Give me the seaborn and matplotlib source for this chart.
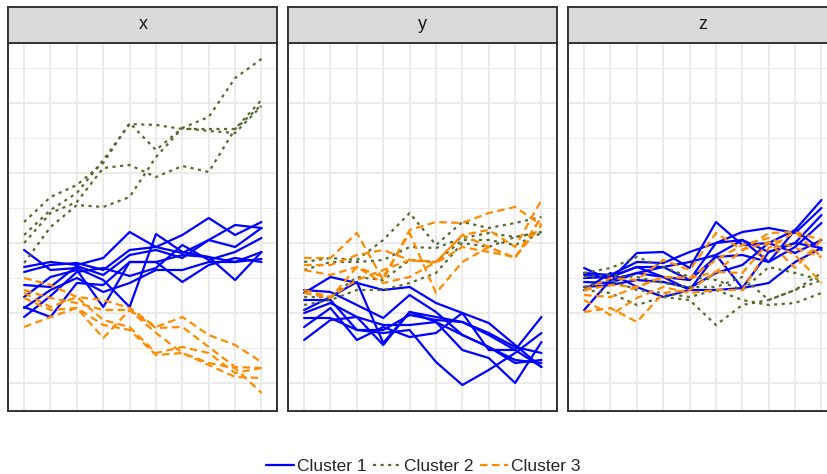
import matplotlib
matplotlib.use("Agg")
import matplotlib.pyplot as plt
import pandas as pd
import seaborn as sns

# ---------------- data (arbitrary units) ----------------
time_points = list(range(1, 11))
panels = ["x", "y", "z"]
clusters = ["Cluster 1", "Cluster 2", "Cluster 3"]

x_cluster1 = [
    [133, 113, 115, 103, 76, 149, 131, 126, 121, 131],
    [116, 121, 118, 125, 151, 136, 130, 143, 136, 155],
    [111, 118, 120, 113, 133, 136, 148, 165, 148, 161],
    [98, 96, 117, 108, 128, 133, 125, 143, 158, 155],
    [86, 106, 113, 76, 121, 121, 128, 126, 103, 131],
    [76, 66, 100, 98, 121, 121, 101, 118, 125, 121],
    [75, 93, 105, 91, 100, 113, 113, 121, 121, 124],
    [66, 87, 111, 115, 107, 115, 138, 123, 131, 145],
]
x_cluster2 = [
    [161, 186, 198, 220, 260, 233, 255, 266, 305, 324],
    [148, 173, 190, 223, 259, 258, 254, 254, 254, 283],
    [140, 170, 181, 215, 218, 206, 217, 211, 254, 278],
    [120, 156, 178, 176, 186, 226, 255, 252, 250, 277],
]
x_cluster3 = [
    [105, 98, 86, 83, 75, 56, 66, 48, 38, 21],
    [93, 85, 80, 73, 73, 55, 56, 36, 16, 15],
    [90, 76, 86, 63, 56, 30, 36, 30, 10, 15],
    [85, 73, 75, 58, 53, 28, 30, 20, 15, -10],
    [56, 66, 75, 45, 73, 50, 30, 18, 6, 5],
]

y_cluster1 = [
    [90, 106, 100, 93, 96, 80, 70, 60, 38, 16],
    [93, 91, 78, 65, 88, 71, 48, 36, 23, 20],
    [73, 86, 101, 40, 71, 66, 61, 50, 36, 30],
    [70, 80, 66, 58, 58, 61, 33, 25, 0, 41],
    [65, 65, 53, 50, 53, 21, -2, 13, 30, 50],
    [56, 75, 43, 56, 46, 50, 70, 33, 33, 66],
    [43, 63, 66, 38, 71, 61, 48, 36, 20, 23],
    [83, 83, 53, 53, 68, 63, 61, 48, 33, 16],
]
y_cluster2 = [
    [121, 125, 123, 143, 170, 138, 161, 155, 160, 166],
    [113, 121, 121, 123, 136, 135, 145, 150, 146, 151],
    [86, 86, 106, 103, 123, 121, 143, 143, 138, 150],
    [78, 83, 93, 93, 100, 110, 140, 136, 146, 151],
]
y_cluster3 = [
    [125, 125, 150, 103, 153, 161, 160, 170, 176, 158],
    [118, 118, 128, 133, 123, 121, 148, 153, 136, 183],
    [113, 108, 116, 106, 150, 90, 121, 136, 125, 166],
    [93, 86, 103, 113, 123, 120, 136, 131, 126, 158],
    [90, 85, 116, 100, 106, 121, 148, 136, 125, 166],
]

z_cluster1 = [
    [115, 103, 130, 131, 115, 161, 138, 140, 153, 183],
    [110, 108, 121, 120, 131, 140, 151, 155, 150, 175],
    [105, 106, 116, 116, 121, 128, 143, 131, 140, 168],
    [101, 100, 110, 106, 103, 126, 128, 121, 136, 160],
    [96, 98, 103, 101, 95, 110, 118, 140, 130, 143],
    [93, 110, 96, 86, 93, 93, 95, 100, 121, 135],
    [73, 103, 110, 116, 103, 140, 143, 121, 153, 133],
    [108, 106, 116, 106, 93, 128, 95, 131, 140, 135],
]
z_cluster2 = [
    [110, 115, 126, 116, 106, 103, 93, 116, 110, 103],
    [106, 108, 106, 100, 96, 96, 106, 83, 93, 110],
    [96, 103, 93, 90, 86, 93, 83, 78, 80, 90],
    [93, 90, 78, 86, 83, 58, 78, 83, 93, 103],
]
z_cluster3 = [
    [93, 105, 103, 123, 113, 150, 133, 150, 151, 143],
    [88, 86, 96, 106, 105, 123, 138, 145, 135, 126],
    [71, 75, 61, 90, 93, 111, 110, 141, 128, 100],
    [83, 68, 85, 96, 90, 93, 93, 135, 151, 126],
    [93, 98, 96, 106, 105, 111, 133, 141, 115, 143],
]

panel_data = {
    "x": [x_cluster1, x_cluster2, x_cluster3],
    "y": [y_cluster1, y_cluster2, y_cluster3],
    "z": [z_cluster1, z_cluster2, z_cluster3],
}

rows = []
for panel in panels:
    for cl, series_list in zip(clusters, panel_data[panel]):
        for i, series in enumerate(series_list):
            for t, v in zip(time_points, series):
                rows.append({"panel": panel, "time": t, "value": v,
                             "cluster": cl, "id": f"{cl}-{i}"})
df = pd.DataFrame(rows)

# ---------------- styling ----------------
sns.set_style("white")
plt.rcParams["font.family"] = ["Liberation Sans", "DejaVu Sans"]

palette = {"Cluster 1": "#0000FF", "Cluster 2": "#556B2F", "Cluster 3": "#FF8C00"}
dashes = {"Cluster 1": "", "Cluster 2": (1.4, 2.0), "Cluster 3": (3.4, 2.0)}

W, H = 827, 474
fig = plt.figure(figsize=(W / 100, H / 100), dpi=100)
fig.patch.set_facecolor("white")

panel_left = [8.3, 288.3, 568.3]
panel_w = 269.0
top_px, bottom_px = 42.7, 410.7
strip_top = 6.7

major = [0, 70, 140, 210, 280]
minor = [35, 105, 175, 245, 315]

axes = []
for k, panel in enumerate(panels):
    ax = fig.add_axes([panel_left[k] / W, (H - bottom_px) / H,
                       panel_w / W, (bottom_px - top_px) / H])
    sub = df[df["panel"] == panel]
    sns.lineplot(data=sub, x="time", y="value", hue="cluster", style="cluster",
                 units="id", estimator=None, palette=palette, dashes=dashes,
                 hue_order=clusters, style_order=clusters, linewidth=1.6,
                 ax=ax, legend=(k == 0))
    ax.set_xlim(0.4, 10.6)
    ax.set_ylim(-27.7, 340.3)
    ax.set_xticks(time_points)
    ax.set_yticks(major)
    ax.set_yticks(minor, minor=True)
    ax.set_axisbelow(True)
    ax.grid(which="major", color="#EBEBEB", linewidth=1.45)
    ax.grid(which="minor", axis="y", color="#EBEBEB", linewidth=0.75)
    ax.tick_params(which="both", length=0, labelleft=False, labelbottom=False)
    ax.set_xlabel("")
    ax.set_ylabel("")
    for sp in ax.spines.values():
        sp.set_color("#333333")
        sp.set_linewidth(1.4)
        sp.set_zorder(5)
    axes.append(ax)

    sax = fig.add_axes([panel_left[k] / W, (H - top_px) / H,
                        panel_w / W, (top_px - strip_top) / H])
    sax.set_facecolor("#D9D9D9")
    sax.set_xticks([])
    sax.set_yticks([])
    for sp in sax.spines.values():
        sp.set_color("#333333")
        sp.set_linewidth(1.4)
    sax.text(0.5, 0.5, panel, ha="center", va="center", fontsize=13,
             color="#1A1A1A", transform=sax.transAxes)

handles, labels = axes[0].get_legend_handles_labels()
axes[0].get_legend().remove()
pairs = [(h, l) for h, l in zip(handles, labels) if l in clusters]
fig.legend([p[0] for p in pairs], [p[1] for p in pairs], loc="center",
           bbox_to_anchor=(423.5 / W, 7.5 / H), ncol=3, frameon=False,
           fontsize=12.5, handlelength=1.6, handletextpad=0.2,
           columnspacing=0.35, borderpad=0.0)

fig.savefig("out.png", dpi=100)
